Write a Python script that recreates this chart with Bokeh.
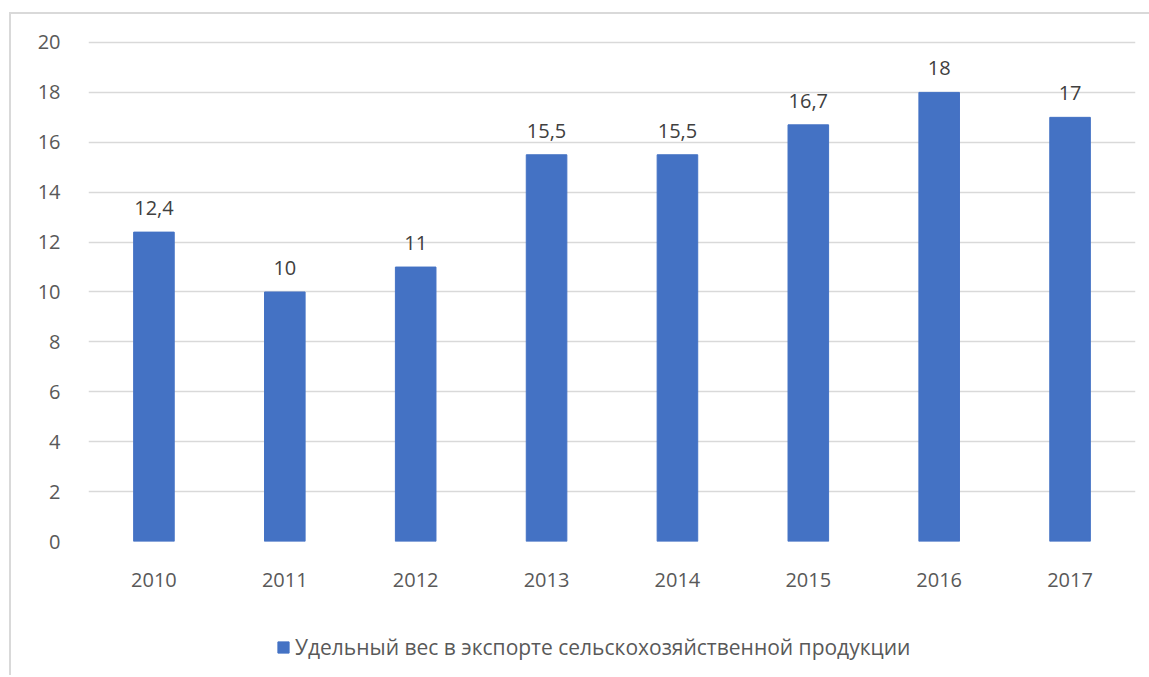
from bokeh.plotting import figure
from bokeh.layouts import column
from bokeh.models import ColumnDataSource, Range1d, Legend, LegendItem, FixedTicker
from bokeh.core.properties import value
from bokeh.embed import file_html
from bokeh.resources import INLINE

years = ["2010", "2011", "2012", "2013", "2014", "2015", "2016", "2017"]
shares = [12.4, 10, 11, 15.5, 15.5, 16.7, 18, 17]
labels = ["12,4", "10", "11", "15,5", "15,5", "16,7", "18", "17"]
y_ticks = [0, 2, 4, 6, 8, 10, 12, 14, 16, 18, 20]
series_name = "Удельный вес в экспорте сельскохозяйственной продукции"

BLUE = "#4472C4"
TEXT = "#595959"
FONT = "Open Sans"
BORDER = "2px solid #d9d9d9"

src = ColumnDataSource(dict(x=years, y=shares, lab=labels))

p = figure(x_range=years, y_range=Range1d(0, 20.08), width=1138, height=607,
           output_backend="svg", toolbar_location=None,
           min_border_left=77, min_border_right=14, min_border_top=26, min_border_bottom=80)
p.outline_line_color = None
p.background_fill_color = "white"
p.border_fill_color = "white"

p.vbar(x="x", top="y", width=0.31, source=src, color=BLUE)
p.text(x="x", y="y", text="lab", source=src, text_align="center", text_baseline="middle",
       y_offset=-24, text_font=value(FONT), text_font_size="20px", text_color="#404040")

p.xgrid.grid_line_color = None
p.ygrid.grid_line_color = "#d9d9d9"
p.ygrid.grid_line_width = 1.3
p.yaxis.ticker = FixedTicker(ticks=y_ticks)

for ax in (p.xaxis[0], p.yaxis[0]):
    ax.axis_line_color = None
    ax.major_tick_line_color = None
    ax.minor_tick_line_color = None
    ax.major_label_text_font = FONT
    ax.major_label_text_font_size = "20px"
    ax.major_label_text_color = TEXT
p.xaxis.major_label_standoff = 25
p.yaxis.major_label_standoff = 22

# legend strip below the chart (its bars lie outside the strip's y range, only the legend shows)
lg = figure(width=1138, height=54, x_range=years, y_range=Range1d(100, 101),
            output_backend="svg", toolbar_location=None,
            x_axis_location=None, y_axis_location=None,
            min_border_left=0, min_border_right=0, min_border_top=0, min_border_bottom=0)
lg.grid.visible = False
lg.outline_line_color = None
lg_r = lg.vbar(x="x", top="y", width=0.31, source=src, color=BLUE)
legend = Legend(items=[LegendItem(label=series_name, renderers=[lg_r])],
                location=(188, 14), orientation="horizontal",
                label_text_font=FONT, label_text_font_size="21px", label_text_color=TEXT,
                glyph_width=14, glyph_height=14, label_standoff=5,
                border_line_color=None, background_fill_alpha=0, margin=0, padding=6)
lg.add_layout(legend)

page = column(p, lg, spacing=0)
page.styles = {"margin-left": "9px", "margin-top": "12px",
               "border-left": BORDER, "border-top": BORDER}

open("out.html", "w").write(file_html(page, INLINE))
